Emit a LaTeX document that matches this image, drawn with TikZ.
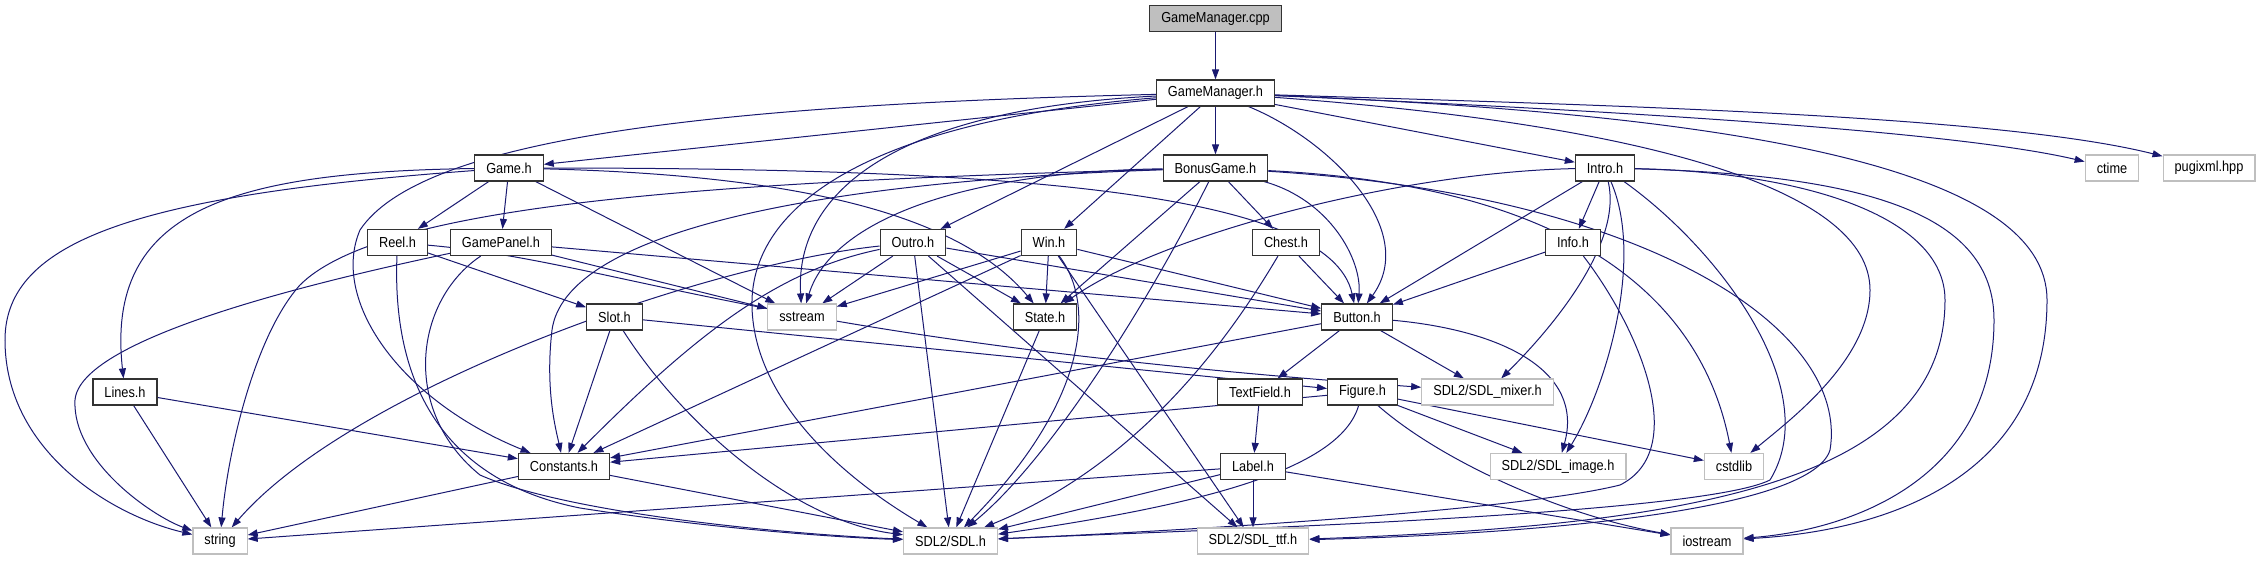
\documentclass[tikz,border=0pt]{standalone}
\usepackage{fontspec}
\setmainfont{Liberation Sans}[FakeStretch=0.88]
\usetikzlibrary{arrows.meta,backgrounds}
\definecolor{edgeblue}{RGB}{25,25,112}
\definecolor{extgray}{RGB}{191,191,191}

\begin{document}
\begin{tikzpicture}[
    x=1pt, y=-1pt,
    file/.style={draw=black!80, line width=1.2pt, fill=white, minimum height=26pt, inner xsep=11.5pt, inner ysep=0pt, font=\fontsize{14.5}{16}\selectfont},
    sys/.style={file, draw=extgray},
    main/.style={file, fill=extgray},
    dep/.style={-{Triangle[length=10pt, width=7pt]}, draw=edgeblue, line width=1pt}
]
    \useasboundingbox (0,0) rectangle (2262,560);

    % Nodes
    \node [main] (cpp) at (1215.5,18.5) {GameManager.cpp};
    \node [file] (gmh) at (1215.5,93) {GameManager.h};

    \node [file] (game) at (509,168) {Game.h};
    \node [file] (bonus) at (1215.5,168) {BonusGame.h};
    \node [file] (intro) at (1605,168) {Intro.h};
    \node [sys] (ctime) at (2112,168) {ctime};
    \node [sys] (pugixml) at (2209,168) {pugixml.hpp};

    \node [file] (reel) at (397.5,242.5) {Reel.h};
    \node [file] (gamepanel) at (501,242.5) {GamePanel.h};
    \node [file] (outro) at (913,242.5) {Outro.h};
    \node [file] (win) at (1049,242.5) {Win.h};
    \node [file] (chest) at (1286,242.5) {Chest.h};
    \node [file] (info) at (1573,242.5) {Info.h};

    \node [file] (slot) at (614.5,317) {Slot.h};
    \node [sys] (sstream) at (802,317) {sstream};
    \node [file] (state) at (1045,317) {State.h};
    \node [file] (button) at (1357,317) {Button.h};

    \node [file] (lines) at (125,392) {Lines.h};
    \node [file] (textfield) at (1260,392) {TextField.h};
    \node [file] (figure) at (1362.5,392) {Figure.h};
    \node [sys] (mixer) at (1487.5,392) {SDL2/SDL\_mixer.h};

    \node [file] (constants) at (564,466.5) {Constants.h};
    \node [file] (label) at (1253,466.5) {Label.h};
    \node [sys] (image) at (1558,466.5) {SDL2/SDL\_image.h};
    \node [sys] (cstdlib) at (1734,466.5) {cstdlib};

    \node [sys] (string) at (220,541) {string};
    \node [sys] (sdl) at (950.5,541) {SDL2/SDL.h};
    \node [sys] (ttf) at (1253,541) {SDL2/SDL\_ttf.h};
    \node [sys] (iostream) at (1707,541) {iostream};

    \begin{scope}[on background layer]
    % Straight includes
    \foreach \a/\b in {cpp/gmh, gmh/game, gmh/bonus, gmh/intro, gmh/outro, gmh/win,
        game/reel, game/gamepanel, game/sstream, reel/slot, gamepanel/sstream, gamepanel/button,
        bonus/state, bonus/chest, intro/info, intro/button,
        outro/sstream, outro/state, outro/button, outro/sdl, outro/ttf,
        win/sstream, win/constants, win/state, win/button, win/ttf, chest/button, info/button,
        slot/figure, slot/constants, lines/constants, lines/string,
        button/textfield, button/mixer, button/constants, textfield/label,
        figure/constants, figure/image, figure/cstdlib,
        label/string, label/sdl, label/ttf, label/iostream,
        constants/string, constants/sdl, state/sdl}
        \draw [dep] (\a) -- (\b);

    % Curved includes
    \draw [dep] (gmh) .. controls (1600,110) and (1950,130) .. (ctime);
    \draw [dep] (gmh) .. controls (1600,105) and (2000,115) .. (pugixml);
    \draw [dep] (gmh) .. controls (700,105) and (420,140) .. (360,230) .. controls (330,300) and (400,400) .. (constants);
    \draw [dep] (gmh) .. controls (880,120) and (755,200) .. (752,300) .. controls (750,390) and (830,470) .. (sdl);
    \draw [dep] (gmh) .. controls (880,110) and (795,200) .. (sstream);
    \draw [dep] (gmh) .. controls (1330,140) and (1420,230) .. (button);
    \draw [dep] (gmh) .. controls (1650,125) and (1870,190) .. (1870,290) .. controls (1870,360) and (1790,420) .. (cstdlib);
    \draw [dep] (gmh) .. controls (1750,115) and (2047,170) .. (2047,300) .. controls (2047,470) and (1900,530) .. (iostream);

    \draw [dep] (game) .. controls (230,172) and (105,210) .. (lines);
    \draw [dep] (game) .. controls (140,195) and (5,240) .. (5,340) .. controls (5,450) and (110,515) .. (string);
    \draw [dep] (game) .. controls (800,175) and (960,215) .. (state);
    \draw [dep] (game) .. controls (1000,168) and (1330,190) .. (button);

    \draw [dep] (reel) .. controls (392,380) and (440,480) .. (580,508) .. controls (720,530) and (850,538) .. (sdl);
    \draw [dep] (reel) .. controls (620,262) and (760,340) .. (mixer);
    \draw [dep] (gamepanel) .. controls (300,285) and (80,340) .. (75,400) .. controls (72,460) and (150,515) .. (string);
    \draw [dep] (gamepanel) .. controls (415,300) and (400,410) .. (480,475) .. controls (570,515) and (800,535) .. (sdl);

    \draw [dep] (bonus) .. controls (700,182) and (380,205) .. (300,285) .. controls (255,335) and (228,450) .. (string);
    \draw [dep] (bonus) .. controls (800,182) and (565,235) .. (552,330) .. controls (545,390) and (556,430) .. (constants);
    \draw [dep] (bonus) .. controls (950,172) and (830,225) .. (sstream);
    \draw [dep] (bonus) .. controls (1150,300) and (1050,460) .. (sdl);
    \draw [dep] (bonus) .. controls (1330,200) and (1362,260) .. (button);
    \draw [dep] (bonus) .. controls (1560,185) and (1700,290) .. (cstdlib);
    \draw [dep] (bonus) .. controls (1650,195) and (1850,330) .. (1830,450) .. controls (1810,515) and (1500,535) .. (ttf);

    \draw [dep] (intro) .. controls (1400,172) and (1160,235) .. (state);
    \draw [dep] (intro) .. controls (1622,240) and (1560,320) .. (mixer);
    \draw [dep] (intro) .. controls (1645,260) and (1605,390) .. (image);
    \draw [dep] (intro) .. controls (1720,250) and (1825,390) .. (1770,480) .. controls (1700,515) and (1200,530) .. (sdl);
    \draw [dep] (intro) .. controls (1800,172) and (1945,215) .. (1945,300) .. controls (1945,480) and (1700,525) .. (ttf);
    \draw [dep] (intro) .. controls (1870,175) and (1994,215) .. (1994,320) .. controls (1994,480) and (1850,530) .. (iostream);

    \draw [dep] (outro) .. controls (780,270) and (700,330) .. (constants);
    \draw [dep] (outro) .. controls (700,265) and (350,390) .. (string);
    \draw [dep] (win) .. controls (1100,310) and (1080,410) .. (sdl);
    \draw [dep] (chest) .. controls (1240,320) and (1150,460) .. (sdl);
    \draw [dep] (info) .. controls (1640,330) and (1690,450) .. (1620,485) .. controls (1520,510) and (1200,530) .. (sdl);
    \draw [dep] (slot) .. controls (680,420) and (790,520) .. (sdl);
    \draw [dep] (button) .. controls (1500,330) and (1585,370) .. (image);
    \draw [dep] (figure) .. controls (1340,470) and (1200,505) .. (sdl);
    \draw [dep] (figure) .. controls (1440,460) and (1560,515) .. (iostream);
    \end{scope}
\end{tikzpicture}
\end{document}
